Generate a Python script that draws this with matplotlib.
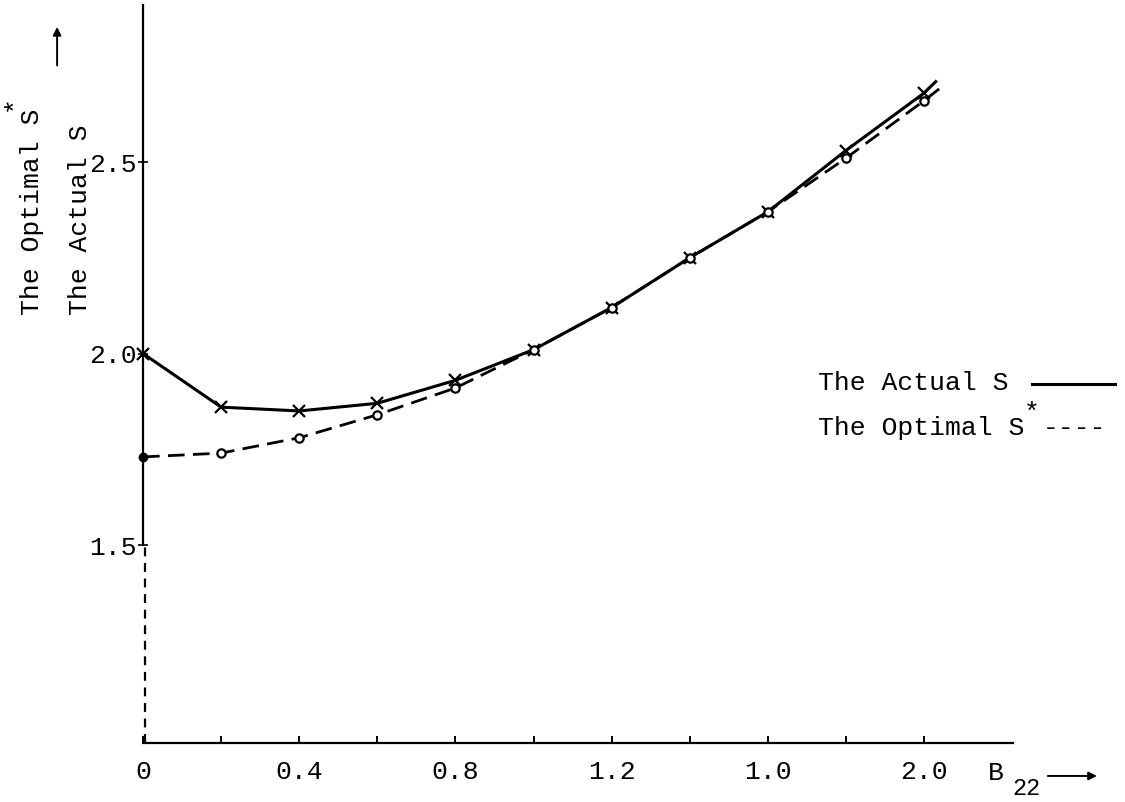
import matplotlib
matplotlib.use('Agg')
import matplotlib.pyplot as plt

# values
b22 = [0.0, 0.2, 0.4, 0.6, 0.8, 1.0, 1.2, 1.4, 1.6, 1.8, 2.0]
actual_s = [2.00, 1.86, 1.85, 1.87, 1.93, 2.01, 2.12, 2.25, 2.37, 2.53, 2.68]
optimal_s = [1.73, 1.74, 1.78, 1.84, 1.91, 2.01, 2.12, 2.25, 2.37, 2.51, 2.66]

# the hand drawn curves run on a little past the last point
actual_tail = (2.03, 2.71)
optimal_tail = (2.05, 2.70)

x_ticks = [0.0, 0.2, 0.4, 0.6, 0.8, 1.0, 1.2, 1.4, 1.6, 1.8, 2.0]
x_tick_labels = ['0', '', '0.4', '', '0.8', '', '1.2', '', '1.0', '', '2.0']
y_ticks = [1.5, 2.0, 2.5]
y_tick_labels = ['1.5', '2.0', '2.5']

plt.rcParams['font.family'] = ['Liberation Mono', 'DejaVu Sans Mono']
FS = 19

fig = plt.figure(figsize=(11.25, 8.02), dpi=100)
ax = fig.add_axes([0, 0, 1, 1])
ax.set_xlim(-0.3662, 2.5147)
ax.set_ylim(0.829, 2.923)

# axes drawn like the typed original: broken y axis below 1.5
x_axis_y = 0.983
for side in ['top', 'right']:
    ax.spines[side].set_visible(False)
ax.spines['left'].set_position(('data', 0))
ax.spines['bottom'].set_position(('data', x_axis_y))
ax.spines['left'].set_bounds(1.5, 2.91)
ax.spines['bottom'].set_bounds(0, 2.228)
for side in ['left', 'bottom']:
    ax.spines[side].set_linewidth(1.6)
ax.plot([0.004, 0.004], [x_axis_y, 1.5], color='black', lw=1.6, dashes=(4, 3))

ax.set_xticks(x_ticks)
ax.set_xticklabels(x_tick_labels, fontsize=FS)
ax.set_yticks(y_ticks)
ax.set_yticklabels(y_tick_labels, fontsize=FS)
ax.tick_params(axis='x', direction='in', length=5, width=1.4, pad=12)
ax.tick_params(axis='y', direction='inout', length=7, width=1.2, pad=1)

# actual S: solid line with x marks
ax.plot(b22 + [actual_tail[0]], actual_s + [actual_tail[1]], color='black', lw=2.2)
ax.plot(b22, actual_s, 'x', color='black', ms=8, mew=1.6)

# optimal S*: dashed line with open circles
ax.plot(b22 + [optimal_tail[0]], optimal_s + [optimal_tail[1]], color='black', lw=2.0,
        dashes=(6, 3))
ax.plot(b22[1:], optimal_s[1:], 'o', mfc='white', mec='black', ms=6, mew=1.6)
ax.plot(b22[:1], optimal_s[:1], 'o', color='black', ms=6)

# y axis titles, typed sideways
ax.text(-0.161, 2.10, 'The Actual S', rotation=90, ha='center', va='bottom', fontsize=FS)
ax.text(-0.284, 2.10, 'The Optimal S', rotation=90, ha='center', va='bottom', fontsize=FS)
ax.text(-0.330, 2.655, '*', rotation=90, ha='center', va='center', fontsize=FS)
ax.annotate('', xy=(-0.220, 2.86), xytext=(-0.220, 2.745),
            arrowprops=dict(arrowstyle='-|>', color='black', lw=1.4, mutation_scale=12))

# x axis title
ax.text(2.185, 0.905, 'B', ha='center', va='center', fontsize=FS)
ax.text(2.262, 0.864, '22', ha='center', va='center', fontsize=17)
ax.annotate('', xy=(2.45, 0.897), xytext=(2.31, 0.897),
            arrowprops=dict(arrowstyle='-|>', color='black', lw=1.4, mutation_scale=12))

# legend typed at the right
ax.text(1.729, 1.923, 'The Actual S', ha='left', va='center', fontsize=FS)
ax.plot([2.277, 2.489], [1.920, 1.920], color='black', lw=2.2)
ax.text(1.729, 1.805, 'The Optimal S', ha='left', va='center', fontsize=FS)
ax.text(2.275, 1.845, '*', ha='center', va='center', fontsize=FS)
ax.text(2.305, 1.805, '----', ha='left', va='center', fontsize=FS)

plt.savefig('out.png', dpi=100)
